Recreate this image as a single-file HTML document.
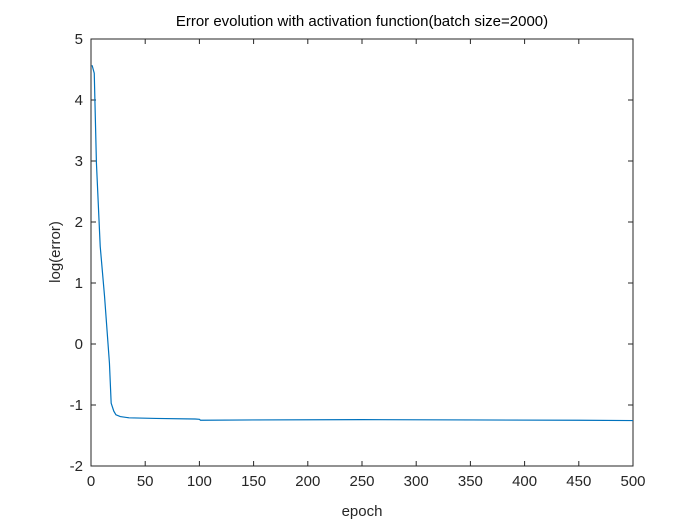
<!DOCTYPE html>
<html><head><meta charset="utf-8"><style>
body{margin:0;background:#fff;}
svg{display:block;font-family:"Liberation Sans",sans-serif;}
</style></head><body>
<svg id="chart" width="700" height="525">
<rect x="0" y="0" width="700" height="525" fill="#fff"/>
<text x="362" y="26" text-anchor="middle" font-size="15" fill="#000">Error evolution with activation function(batch size=2000)</text>
<g id="axes"></g>
<text x="362" y="516" text-anchor="middle" font-size="15" fill="#262626">epoch</text>
<text transform="translate(60,252) rotate(-90)" text-anchor="middle" font-size="15" fill="#262626">log(error)</text>
</svg>
<script>
const epochs=[1,3,5,8.5,12.5,17,18.6,21,23,27,35,60,96,100,101,150,250,350,450,500];
const logErr=[4.57,4.44,2.97,1.6,0.78,-0.31,-0.97,-1.1,-1.16,-1.19,-1.21,-1.22,-1.23,-1.235,-1.25,-1.245,-1.24,-1.245,-1.25,-1.255];
const xTicks=[0,50,100,150,200,250,300,350,400,450,500];
const yTicks=[-2,-1,0,1,2,3,4,5];
const L=91,R=633,T=39,B=466;
const xs=v=>L+(v-0)/500*(R-L);
const ys=v=>B-(v+2)/7*(B-T);
const NS="http://www.w3.org/2000/svg";
const g=document.getElementById('axes');
function mk(t,a){const e=document.createElementNS(NS,t);for(const k in a)e.setAttribute(k,a[k]);g.appendChild(e);return e;}
const box=mk('rect',{x:L,y:T,width:R-L,height:B-T,fill:'none',stroke:'#262626','stroke-width':1});


xTicks.forEach(v=>{const x=xs(v);
 mk('line',{x1:x,x2:x,y1:B,y2:B-5,stroke:'#262626'});
 mk('line',{x1:x,x2:x,y1:T,y2:T+5,stroke:'#262626'});
 const t=mk('text',{x:x,y:B+20,'text-anchor':'middle','font-size':15,fill:'#262626'});t.textContent=v;
 
 
});
yTicks.forEach(v=>{const y=ys(v);
 mk('line',{x1:L,x2:L+5,y1:y,y2:y,stroke:'#262626'});
 mk('line',{x1:R,x2:R-5,y1:y,y2:y,stroke:'#262626'});
 const t=mk('text',{x:L-8,y:y+5,'text-anchor':'end','font-size':15,fill:'#262626'});t.textContent=v;
 
 
});
const p=mk('polyline',{points:epochs.map((e,i)=>xs(e)+','+ys(logErr[i])).join(' '),fill:'none',stroke:'#0072bd','stroke-width':1.2});


</script>
</body></html>
